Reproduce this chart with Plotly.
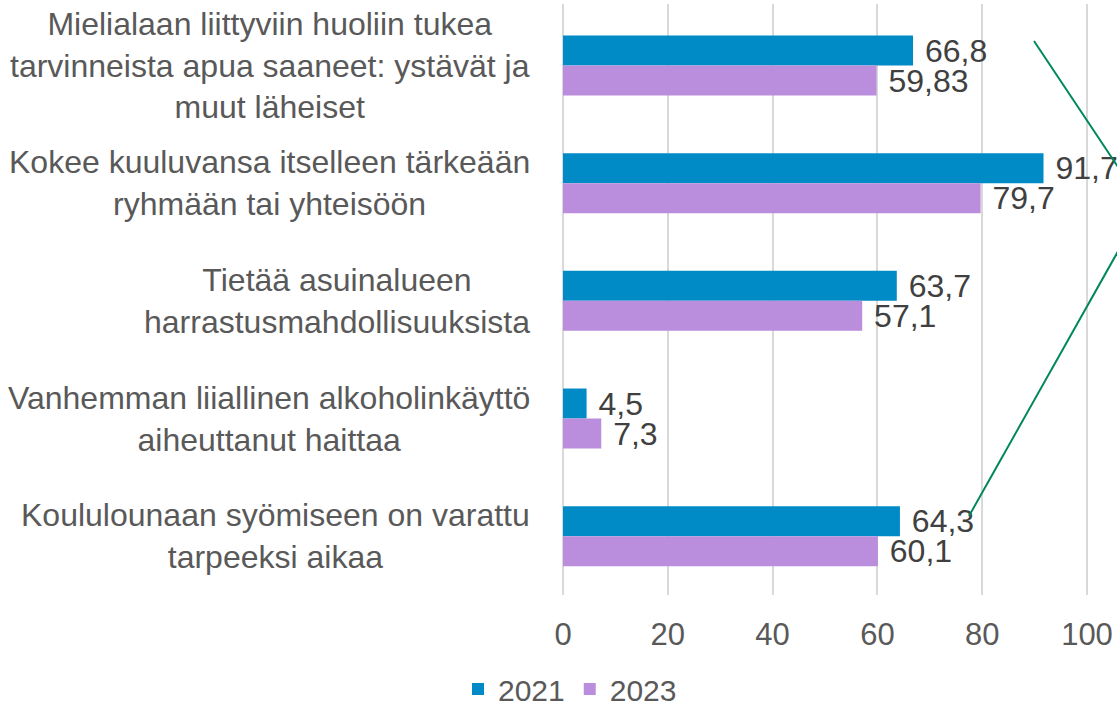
import plotly.graph_objects as go

categories = [
    "Mielialaan liittyviin huoliin tukea<br>tarvinneista apua saaneet: ystävät ja<br>muut läheiset",
    "Kokee kuuluvansa itselleen tärkeään<br>ryhmään tai yhteisöön",
    "Tietää asuinalueen<br>harrastusmahdollisuuksista",
    "Vanhemman liiallinen alkoholinkäyttö<br>aiheuttanut haittaa",
    "Koululounaan syömiseen on varattu<br>tarpeeksi aikaa",
]
series_names = ["2021", "2023"]
values_2021 = [66.8, 91.7, 63.7, 4.5, 64.3]
values_2023 = [59.83, 79.7, 57.1, 7.3, 60.1]
x_ticks = [0, 20, 40, 60, 80, 100]

colors = ["rgb(0,139,198)", "rgb(187,142,221)"]
FONT = "Liberation Sans, Arial, sans-serif"

W, H = 1117, 707
L, R, T, B = 563, 0, 4, 112
plot_w = W - L - R
plot_h = H - T - B


def fmt(v):
    return "\u00a0" + (("%g" % v).replace(".", ","))


fig = go.Figure()
for name, vals, col in zip(series_names, [values_2021, values_2023], colors):
    fig.add_trace(go.Bar(
        y=categories, x=vals, orientation="h", name=name,
        marker=dict(color=col, line=dict(width=0)),
        text=[fmt(v) for v in vals], textposition="outside",
        textfont=dict(family=FONT, size=32, color="#404040"),
        constraintext="none", cliponaxis=False,
    ))

# category labels as centered annotations
for c in categories:
    fig.add_annotation(
        x=-31 / plot_w, xref="paper", y=c, yref="y",
        text=c, showarrow=False, xanchor="right", yanchor="middle",
        align="center", font=dict(family=FONT, size=32, color="#595959"),
    )

# green callout lines (decorative)
def px(xp, yp):
    return (xp - L) / plot_w, (H - B - yp) / plot_h

for (x0, y0), (x1, y1) in [((1034, 41), (1130, 185)), ((969, 516), (1130, 230))]:
    a0, b0 = px(x0, y0)
    a1, b1 = px(x1, y1)
    fig.add_shape(type="line", xref="paper", yref="paper", x0=a0, y0=b0, x1=a1, y1=b1,
                  line=dict(color="rgb(0,135,90)", width=2))

fig.update_layout(
    width=W, height=H,
    margin=dict(l=L, r=R, t=T, b=B, autoexpand=False),
    barmode="group", bargap=0.49, bargroupgap=0,
    plot_bgcolor="white", paper_bgcolor="white",
    font=dict(family=FONT, color="#595959"),
    legend=dict(orientation="h", x=(570 - L) / plot_w, xanchor="center",
                y=-(689 - (H - B)) / plot_h, yanchor="middle",
                font=dict(family=FONT, size=30, color="#595959"),
                itemwidth=30, tracegroupgap=0),
    showlegend=True,
)
fig.update_xaxes(range=[0, plot_w / 5.24], tickvals=x_ticks, ticktext=[str(t) for t in x_ticks],
                 showgrid=True, gridcolor="#D9D9D9", gridwidth=1.5,
                 zeroline=True, zerolinecolor="#D9D9D9", zerolinewidth=1.5,
                 showline=False, ticks="", ticklabelstandoff=18,
                 tickfont=dict(family=FONT, size=31, color="#595959"))
fig.update_yaxes(autorange="reversed", showticklabels=False, showgrid=False,
                 zeroline=False, showline=False, ticks="")

fig.write_html("out.html", config={"displayModeBar": False},
               post_script="document.body.style.margin='0px';")
